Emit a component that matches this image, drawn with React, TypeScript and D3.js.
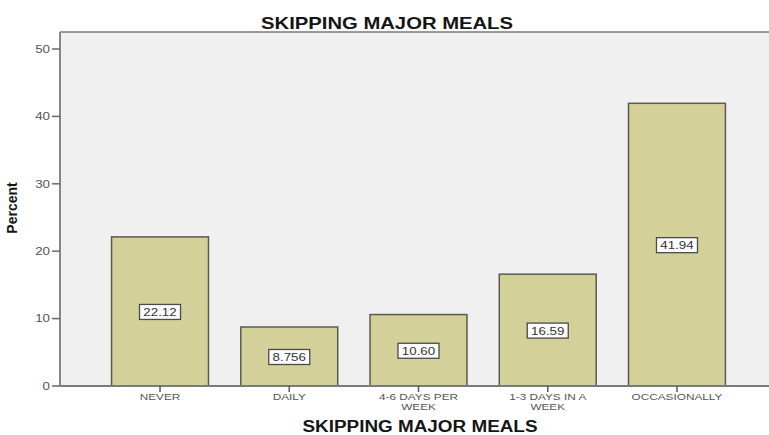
import React from "react";
import * as d3 from "d3";

const categories: string[][] = [
  ["NEVER"],
  ["DAILY"],
  ["4-6 DAYS PER", "WEEK"],
  ["1-3 DAYS IN A", "WEEK"],
  ["OCCASIONALLY"],
];
const values: number[] = [22.12, 8.756, 10.6, 16.59, 41.94];
const valueLabels: string[] = ["22.12", "8.756", "10.60", "16.59", "41.94"];
const yTicks: number[] = [0, 10, 20, 30, 40, 50];

const W = 769;
const H = 435;
const plotLeft = 60;
const plotTop = 32;
const plotBottom = 386;
const font = "Arial, 'Liberation Sans', sans-serif";
const SX = 1.27;

export default function App() {
  const y = d3.scaleLinear().domain([0, 50]).range([plotBottom, 49]);
  const x = d3
    .scaleBand<number>()
    .domain(d3.range(values.length))
    .range([95.4, 741.6])
    .paddingInner(0.25)
    .paddingOuter(0.125);

  return (
    <svg
      width={W}
      height={H}
      style={{ position: "absolute", left: 0, top: 0, background: "#fff" }}
    >
      <rect
        x={plotLeft}
        y={plotTop}
        width={W - plotLeft}
        height={plotBottom - plotTop}
        fill="#f0f0f0"
      />
      <line x1={plotLeft} x2={W} y1={plotTop} y2={plotTop} stroke="#7a7a7a" strokeWidth={1.5} />
      <text
        x={387}
        y={28.5}
        textAnchor="middle"
        fontFamily={font}
        fontWeight="bold"
        fontSize={16.5}
        fill="#151515"
        textLength={252}
        lengthAdjust="spacingAndGlyphs"
      >
        SKIPPING MAJOR MEALS
      </text>

      {values.map((v, i) => {
        const bx = x(i)!;
        const bw = x.bandwidth();
        const top = y(v);
        const cy = (top + y(0)) / 2;
        const cx = bx + bw / 2;
        return (
          <g key={i}>
            <rect
              x={bx}
              y={top}
              width={bw}
              height={y(0) - top}
              fill="#d4d099"
              stroke="#5a5a50"
              strokeWidth={1.5}
            />
            <rect
              x={cx - 20.5}
              y={cy - 7}
              width={41}
              height={15}
              fill="#ffffff"
              stroke="#4a4a4a"
              strokeWidth={1.3}
            />
            <g transform={`translate(${cx},${cy + 4.5}) scale(${SX},1)`}>
              <text textAnchor="middle" fontFamily={font} fontSize={10.5} fill="#333">
                {valueLabels[i]}
              </text>
            </g>
          </g>
        );
      })}

      <line x1={plotLeft} x2={plotLeft} y1={plotTop} y2={plotBottom} stroke="#7a7a7a" strokeWidth={1.8} />
      <line x1={plotLeft} x2={W} y1={plotBottom} y2={plotBottom} stroke="#7a7a7a" strokeWidth={1.8} />

      {yTicks.map((t) => (
        <g key={t}>
          <line x1={plotLeft - 8} x2={plotLeft} y1={y(t)} y2={y(t)} stroke="#6a6a6a" strokeWidth={1.5} />
          <g transform={`translate(${plotLeft - 10},${y(t) + 3.8}) scale(${SX},1)`}>
            <text textAnchor="end" fontFamily={font} fontSize={10.5} fill="#555">
              {t}
            </text>
          </g>
        </g>
      ))}

      {categories.map((lines, i) => {
        const cx = x(i)! + x.bandwidth() / 2;
        return (
          <g key={i}>
            <line x1={cx} x2={cx} y1={plotBottom} y2={plotBottom + 6} stroke="#555" strokeWidth={1.5} />
            {lines.map((ln, j) => (
              <g key={j} transform={`translate(${cx},${plotBottom + 14 + j * 9.5}) scale(${SX},1)`}>
                <text textAnchor="middle" fontFamily={font} fontSize={9.3} fill="#555">
                  {ln}
                </text>
              </g>
            ))}
          </g>
        );
      })}

      <text
        x={420}
        y={432}
        textAnchor="middle"
        fontFamily={font}
        fontWeight="bold"
        fontSize={16}
        fill="#151515"
        textLength={235}
        lengthAdjust="spacingAndGlyphs"
      >
        SKIPPING MAJOR MEALS
      </text>

      <text
        transform="translate(17,208) rotate(-90)"
        textAnchor="middle"
        fontFamily={font}
        fontWeight="bold"
        fontSize={14}
        fill="#151515"
      >
        Percent
      </text>
    </svg>
  );
}
